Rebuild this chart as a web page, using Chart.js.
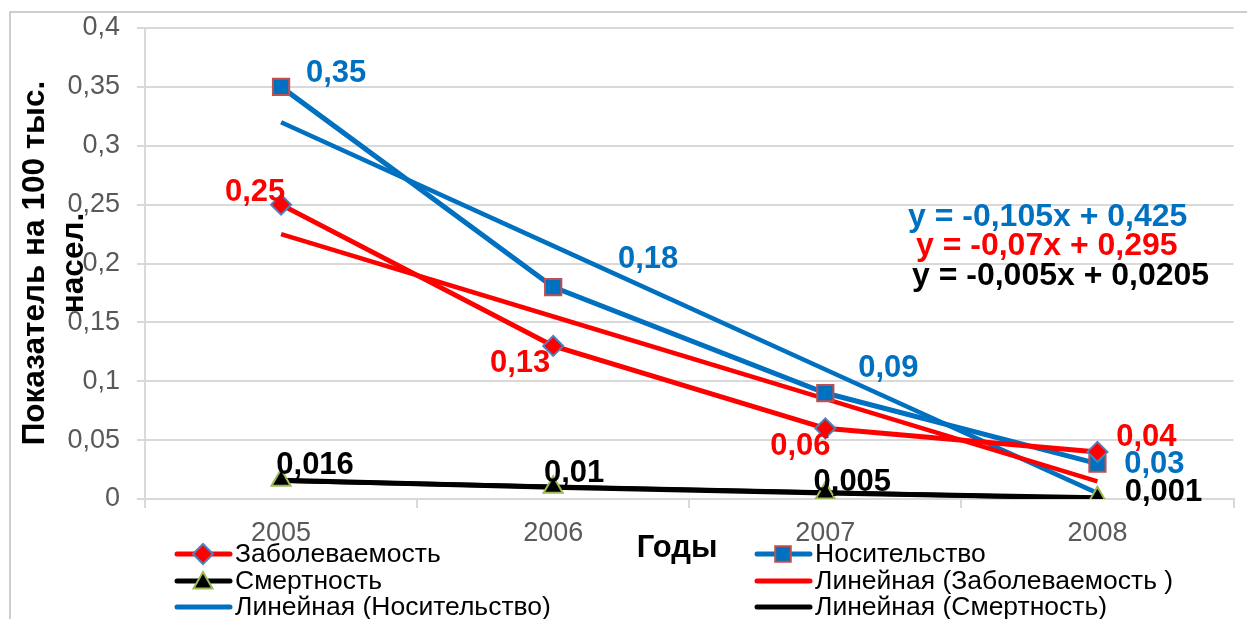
<!DOCTYPE html>
<html>
<head>
<meta charset="utf-8">
<script src="https://cdn.jsdelivr.net/npm/chart.js@4.4.1/dist/chart.umd.min.js"></script>
<style>
  body { margin: 0; background: #fff; }
  #wrap { width: 1247px; height: 619px; }
</style>
</head>
<body>
<div id="wrap"><canvas id="chart" width="1247" height="619"></canvas></div>
<script>
const years = ["2005", "2006", "2007", "2008"];
const zabol = [0.25, 0.13, 0.06, 0.04]; // Заболеваемость
const nosit = [0.35, 0.18, 0.09, 0.03]; // Носительство
const smert = [0.016, 0.01, 0.005, 0.001]; // Смертность
// linear trends
const trendZabol = [0.225, 0.155, 0.085, 0.015];
const trendNosit = [0.32, 0.215, 0.11, 0.005];
const trendSmert = [0.0155, 0.0105, 0.0055, 0.0005];
const equations = ["y = -0,105x + 0,425", "y = -0,07x + 0,295", "y = -0,005x + 0,0205"];

const RED = "#ff0000";
const BLUE = "#0070c0";
const BLACK = "#000000";
const FONT = "'Liberation Sans', Arial, sans-serif";

// where each value label sits relative to its point (dx, dy)
const labelOffsets = [
  [[-26, -13], [-33, 17], [-25, 17], [49, -15]],
  [[55, -14], [95, -29], [63, -26], [57, 0]],
  [[34, -16], [21, -15], [27, -12], [66, -6]],
];

const fmt = (v) => String(v).replace(".", ",");

const decor = {
  id: "decor",
  beforeDraw(chart) {
    const ctx = chart.ctx;
    ctx.save();
    ctx.fillStyle = "#fff";
    ctx.fillRect(0, 0, chart.width, chart.height);
    ctx.strokeStyle = "#bfbfbf";
    ctx.lineWidth = 1.5;
    ctx.beginPath();
    ctx.moveTo(10, chart.height + 2);
    ctx.lineTo(10, 12);
    ctx.lineTo(chart.width + 2, 12);
    ctx.stroke();
    ctx.restore();
  },
  afterDatasetsDraw(chart) {
    const ctx = chart.ctx;
    const colors = [RED, BLUE, BLACK];
    ctx.save();
    ctx.font = "bold 31px " + FONT;
    ctx.textAlign = "center";
    ctx.textBaseline = "middle";
    [0, 1, 2].forEach((di) => {
      const meta = chart.getDatasetMeta(di);
      const vals = chart.data.datasets[di].data;
      ctx.fillStyle = colors[di];
      meta.data.forEach((pt, i) => {
        const off = labelOffsets[di][i];
        ctx.fillText(fmt(vals[i]), pt.x + off[0], pt.y + off[1] + 1);
      });
    });
    ctx.restore();
  },
  afterDraw(chart) {
    const ctx = chart.ctx;
    ctx.save();

    // trendline equations
    ctx.font = "bold 32px " + FONT;
    ctx.textAlign = "left";
    ctx.textBaseline = "middle";
    const eqPos = [[908, 217, BLUE], [916, 246, RED], [912, 276, BLACK]];
    equations.forEach((t, i) => {
      ctx.fillStyle = eqPos[i][2];
      ctx.fillText(t, eqPos[i][0], eqPos[i][1]);
    });

    // y axis title, two lines
    ctx.fillStyle = "#000";
    ctx.font = "bold 31.5px " + FONT;
    ctx.textAlign = "center";
    ctx.textBaseline = "alphabetic";
    ctx.save();
    ctx.translate(44, 263);
    ctx.rotate(-Math.PI / 2);
    ctx.fillText("Показатель на 100 тыс.", 0, 0);
    ctx.fillText("насел.", 0, 39);
    ctx.restore();

    // x axis title
    ctx.font = "bold 31px " + FONT;
    ctx.textBaseline = "middle";
    ctx.fillText("Годы", 677, 548);

    // legend
    const items = [
      { text: "Заболеваемость", color: RED, x: 177, y: 554, marker: "rectRot", fill: RED, border: "#4f81bd", r: 10 },
      { text: "Носительство", color: BLUE, x: 757, y: 554, marker: "rect", fill: BLUE, border: "#c0504d", r: 11 },
      { text: "Смертность", color: BLACK, x: 177, y: 581, marker: "triangle", fill: BLACK, border: "#9bbb59", r: 11 },
      { text: "Линейная (Заболеваемость )", color: RED, x: 757, y: 581 },
      { text: "Линейная (Носительство)", color: BLUE, x: 177, y: 607 },
      { text: "Линейная (Смертность)", color: BLACK, x: 757, y: 607 },
    ];
    ctx.font = "26.5px " + FONT;
    ctx.textAlign = "left";
    items.forEach((it) => {
      ctx.strokeStyle = it.color;
      ctx.lineWidth = 5;
      ctx.lineCap = "round";
      ctx.beginPath();
      ctx.moveTo(it.x, it.y);
      ctx.lineTo(it.x + 53, it.y);
      ctx.stroke();
      if (it.marker) {
        ctx.fillStyle = it.fill;
        ctx.strokeStyle = it.border;
        ctx.lineWidth = 2;
        Chart.helpers.drawPoint(ctx, { pointStyle: it.marker, radius: it.r, borderWidth: 2 }, it.x + 26, it.y + (it.marker === "triangle" ? 2 : 0));
      }
      ctx.fillStyle = "#000";
      ctx.fillText(it.text, it.x + 58, it.y + 1);
    });
    ctx.restore();
  },
};

function lineSet(data, color, extra) {
  return Object.assign({
    data: data,
    borderColor: color,
    backgroundColor: color,
    borderWidth: 5,
    pointRadius: 0,
    pointHoverRadius: 0,
    tension: 0,
    fill: false,
  }, extra || {});
}

new Chart(document.getElementById("chart"), {
  type: "line",
  data: {
    labels: years,
    datasets: [
      lineSet(zabol, RED, { label: "Заболеваемость", pointStyle: "rectRot", pointRadius: 10, pointBackgroundColor: RED, pointBorderColor: "#4f81bd", pointBorderWidth: 2 }),
      lineSet(nosit, BLUE, { label: "Носительство", pointStyle: "rect", pointRadius: 11.5, pointBackgroundColor: BLUE, pointBorderColor: "#c0504d", pointBorderWidth: 2 }),
      lineSet(smert, BLACK, { label: "Смертность", pointStyle: "triangle", pointRadius: 11, pointBackgroundColor: BLACK, pointBorderColor: "#9bbb59", pointBorderWidth: 2 }),
      lineSet(trendZabol, RED, { label: "Линейная (Заболеваемость )", borderWidth: 4.5 }),
      lineSet(trendNosit, BLUE, { label: "Линейная (Носительство)", borderWidth: 4.5 }),
      lineSet(trendSmert, BLACK, { label: "Линейная (Смертность)", borderWidth: 4.5 }),
    ],
  },
  options: {
    responsive: false,
    animation: false,
    devicePixelRatio: 1,
    layout: { padding: { left: 10, top: 28, right: 13, bottom: 0 } },
    plugins: { legend: { display: false }, tooltip: { enabled: false } },
    scales: {
      x: {
        offset: true,
        grid: { display: true, offset: true, drawOnChartArea: false, color: "#d9d9d9", lineWidth: 2, tickLength: 9 },
        border: { display: true, color: "#d9d9d9", width: 2 },
        ticks: { color: "#595959", font: { family: FONT, size: 27 }, padding: 9, maxRotation: 0 },
        afterFit: (s) => { s.height = 120; },
      },
      y: {
        min: 0,
        max: 0.4,
        grid: { color: "#d9d9d9", lineWidth: 2, tickLength: 8 },
        border: { display: true, color: "#d9d9d9", width: 2 },
        ticks: {
          stepSize: 0.05,
          color: "#595959",
          font: { family: FONT, size: 27 },
          padding: 17,
          callback: (v) => String(+v.toFixed(2)).replace(".", ","),
        },
        afterFit: (s) => { s.width = 135; s.paddingTop = 0; s.paddingBottom = 0; },
      },
    },
  },
  plugins: [decor],
});
</script>
</body>
</html>
